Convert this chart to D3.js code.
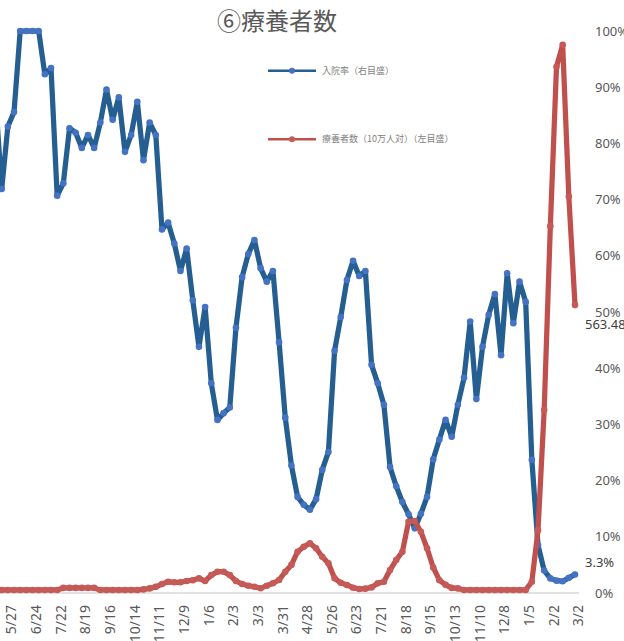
<!DOCTYPE html>
<html>
<head>
<meta charset="utf-8">
<script src="https://cdn.jsdelivr.net/npm/d3@7"></script>
<style>
html,body{margin:0;padding:0;background:#fff;}
svg{display:block;}
text{font-family:"Noto Sans CJK JP","Noto Sans",sans-serif;}
</style>
</head>
<body>
<svg id="chart" width="624" height="641"></svg>
<script>
// ---- data ----
const dates = ["5/13","5/20","5/27","6/3","6/10","6/17","6/24","7/1","7/8","7/15","7/22","7/29","8/5","8/12","8/19","8/26","9/2","9/9","9/16","9/23","9/30","10/7","10/14","10/21","10/28","11/4","11/11","11/18","11/25","12/2","12/9","12/16","12/23","12/30",
"1/6","1/13","1/20","1/27","2/3","2/10","2/17","2/24","3/3","3/10","3/17","3/24","3/31","4/7","4/14","4/21","4/28","5/5","5/12","5/19","5/26","6/2","6/9","6/16","6/23","6/30","7/7","7/14","7/21","7/28","8/4","8/11","8/18","8/25","9/1","9/8","9/15","9/22","9/29","10/6","10/13","10/20","10/27","11/3","11/10","11/17","11/24","12/1","12/8","12/15","12/22","12/29",
"1/5","1/12","1/19","1/26","2/2","2/9","2/16","2/23","3/2"];

const tickLabels = ["5/27","6/24","7/22","8/19","9/16","10/14","11/11","12/9","1/6","2/3","3/3","3/31","4/28","5/26","6/23","7/21","8/18","9/15","10/13","11/10","12/8","1/5","2/2","3/2"];
// tick labels sit on every 4th category starting at 5/27
const tickIndex = [2,6,10,14,18,22,26,30,34,38,42,46,50,54,58,62,66,70,74,78,82,86,90,94];

// 入院率 (%), right axis
const hospRate = [88,71.9,83.0,85.6,100,100,100,100,92.3,93.4,70.7,72.9,82.7,81.9,79.2,81.5,79.2,83.7,89.6,84.2,88.2,78.5,81.5,87.4,77.0,83.7,81.5,64.7,65.9,62.2,57.3,61.3,52.1,43.8,
50.9,37.3,30.8,32.0,33.0,47.2,56.2,60.3,62.8,57.8,55.4,57.3,44.6,31.2,22.7,17.1,15.7,14.8,16.7,21.9,25.1,43.1,49.1,55.7,59.1,56.4,57.3,40.6,37.3,33.5,22.4,19.0,16.2,14.0,11.5,14.1,17.1,23.8,27.3,30.8,27.8,33.5,38.3,48.3,34.5,43.8,49.5,53.2,42.3,56.9,48.0,55.4,51.8,
23.7,8.5,4.0,2.6,2.2,2.1,2.7,3.3];

// 療養者数（10万人対）, left axis
const patients = [6,6,6,6,6,6,6,6,6,6,6,10,10,10,10,10,10,6,6,6,6,6,6,6,7,9,12,17.6,22,21,21,23.5,25,28.8,
23.5,35,41.7,41.7,35,23.5,17.6,14.3,12.3,9.2,14.3,19,25.4,41.7,55,80.8,90.6,97.3,87.5,71,58,28.8,20,15.7,10.4,7.8,8.5,11,19,22,45,64.6,80.8,139.5,141,120,87.5,50,25,16,10,9,6,6,6,6,6,6,6,6,6,6,6,
22,123,358,718,1030,1073,776,563.48];

const rightTicks = [0,10,20,30,40,50,60,70,80,90,100];
const seriesNames = ["入院率（右目盛）","療養者数（10万人対）（左目盛）"];
const titleText = "⑥療養者数";
const lastLabels = ["563.48","3.3%"];

// ---- chart ----
const svg = d3.select("#chart");
svg.append("rect").attr("width",624).attr("height",641).attr("fill","#fff");

const x = d3.scalePoint().domain(dates).range([-4.47, 575]);
const yR = d3.scaleLinear().domain([0,100]).range([593,31]);
const yL = d3.scaleLinear().domain([0,1100]).range([593,31]);

// title
svg.append("text").attr("x",277).attr("y",30).attr("text-anchor","middle")
  .attr("font-size",24).attr("fill","#595959").text(titleText);

// baseline
svg.append("line").attr("x1",0).attr("x2",579).attr("y1",yR(0)).attr("y2",yR(0))
  .attr("stroke","#d9d9d9").attr("stroke-width",1.5);

// right axis
const ra = svg.append("g").attr("transform","translate(583,0)")
  .call(d3.axisRight(yR).tickValues(rightTicks).tickSize(0).tickPadding(12).tickFormat(d=>d+"%"));
ra.select(".domain").remove();
ra.selectAll("text").attr("font-size",13).attr("fill","#595959")
  .style("font-family","'Noto Sans','Liberation Sans',sans-serif");

// x axis
const xa = svg.append("g").attr("transform","translate(0,593)")
  .call(d3.axisBottom(x).tickValues(tickIndex.map(i=>dates[i])).tickSize(0).tickFormat((d,i)=>tickLabels[i]));
xa.select(".domain").remove();
xa.selectAll("text")
  .attr("transform","rotate(-90)")
  .attr("text-anchor","end")
  .attr("x",-12).attr("y",3).attr("dy","0.35em")
  .attr("font-size",14).attr("fill","#595959")
  .style("font-family","'Noto Sans','Liberation Sans',sans-serif");

const BLUE="#255E91", BLUEDOT="#4472C4", RED="#C0504D", REDDOT="#C55A57";

// blue series
const lineB = d3.line().x((d,i)=>x(dates[i])).y(d=>yR(d));
svg.append("path").datum(hospRate).attr("d",lineB).attr("fill","none")
  .attr("stroke",BLUE).attr("stroke-width",5.25).attr("stroke-linejoin","round").attr("stroke-linecap","round");
svg.append("g").selectAll("circle").data(hospRate).join("circle")
  .attr("cx",(d,i)=>x(dates[i])).attr("cy",d=>yR(d)).attr("r",3.3).attr("fill",BLUEDOT);

// red series
const lineR = d3.line().x((d,i)=>x(dates[i])).y(d=>yL(d));
svg.append("path").datum(patients).attr("d",lineR).attr("fill","none")
  .attr("stroke",RED).attr("stroke-width",5.25).attr("stroke-linejoin","round").attr("stroke-linecap","round");
svg.append("g").selectAll("circle").data(patients).join("circle")
  .attr("cx",(d,i)=>x(dates[i])).attr("cy",d=>yL(d)).attr("r",3.3).attr("fill",REDDOT);

// data labels at last point
const lastI = dates.length-1;
svg.append("text").attr("x",x(dates[lastI])+10).attr("y",yL(patients[lastI])+24)
  .attr("font-size",13).attr("fill","#404040")
  .style("font-family","'Noto Sans','Liberation Sans',sans-serif").text(lastLabels[0]);
svg.append("text").attr("x",x(dates[lastI])+10).attr("y",yR(hospRate[lastI])-7)
  .attr("font-size",13).attr("fill","#404040")
  .style("font-family","'Noto Sans','Liberation Sans',sans-serif").text(lastLabels[1]);

// legend
const legend = [{name:seriesNames[0],c:BLUE,dc:BLUEDOT,y:70.7},{name:seriesNames[1],c:RED,dc:REDDOT,y:139.3}];
legend.forEach(l=>{
  svg.append("line").attr("x1",268).attr("x2",316).attr("y1",l.y).attr("y2",l.y)
    .attr("stroke",l.c).attr("stroke-width",2.5);
  svg.append("circle").attr("cx",292).attr("cy",l.y).attr("r",3).attr("fill",l.dc);
  svg.append("text").attr("x",322).attr("y",l.y).attr("dy","0.35em")
    .attr("font-size",9).attr("fill","#7f7f7f").text(l.name);
});
</script>
</body>
</html>
